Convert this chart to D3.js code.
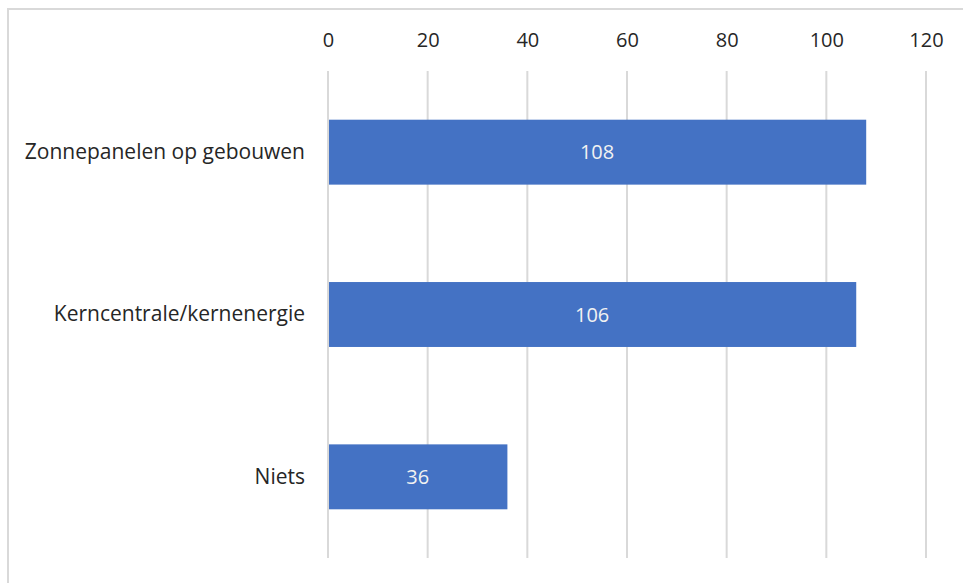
<!DOCTYPE html>
<html><head><meta charset="utf-8">
<script src="https://cdn.jsdelivr.net/npm/d3@7"></script>
<style>body{margin:0;background:#fff;}svg{display:block;font-family:"Open Sans","Noto Sans",sans-serif;}</style>
</head><body>
<svg id="c" width="963" height="583"></svg>
<script>
const categories = ["Zonnepanelen op gebouwen", "Kerncentrale/kernenergie", "Niets"];
const values = [108, 106, 36];
const tickValues = [0, 20, 40, 60, 80, 100, 120];

const svg = d3.select("#c");
svg.append("rect").attr("x", 8).attr("y", 9).attr("width", 1000).attr("height", 700)
  .attr("fill", "#fff").attr("stroke", "#d9d9d9").attr("stroke-width", 2);

const x = d3.scaleLinear().domain([0, 120]).range([328, 926]);
const y = d3.scaleBand().domain(categories).range([71, 558]).paddingInner(0.6).paddingOuter(0.3);

// gridlines
svg.append("g").selectAll("line").data(tickValues).join("line")
  .attr("x1", d => x(d)).attr("x2", d => x(d))
  .attr("y1", 71).attr("y2", 558)
  .attr("stroke", "#d9d9d9").attr("stroke-width", 2);

// top axis labels
const ax = svg.append("g").attr("transform", "translate(0,47)")
  .call(d3.axisTop(x).tickValues(tickValues).tickSize(0).tickPadding(0));
ax.select(".domain").remove();
ax.selectAll("text").attr("font-size", 20).attr("fill", "#262626")
  .attr("font-family", "'Open Sans','Noto Sans',sans-serif");

// bars
svg.append("g").selectAll("rect").data(categories).join("rect")
  .attr("x", x(0) + 1).attr("y", d => y(d))
  .attr("width", (d, i) => x(values[i]) - x(0) - 1)
  .attr("height", y.bandwidth())
  .attr("fill", "#4472C4");

// value labels
svg.append("g").selectAll("text").data(categories).join("text")
  .attr("x", (d, i) => (x(0) + x(values[i])) / 2)
  .attr("y", d => y(d) + y.bandwidth() / 2)
  .attr("dy", "0.35em").attr("text-anchor", "middle")
  .attr("font-size", 20).attr("fill", "#f2f2f2")
  .text((d, i) => values[i]);

// category labels
const ay = svg.append("g").attr("transform", "translate(305,0)")
  .call(d3.axisLeft(y).tickSize(0).tickPadding(0));
ay.select(".domain").remove();
ay.selectAll("text").attr("font-size", 21).attr("fill", "#262626")
  .attr("font-family", "'Open Sans','Noto Sans',sans-serif");
</script>
</body></html>
